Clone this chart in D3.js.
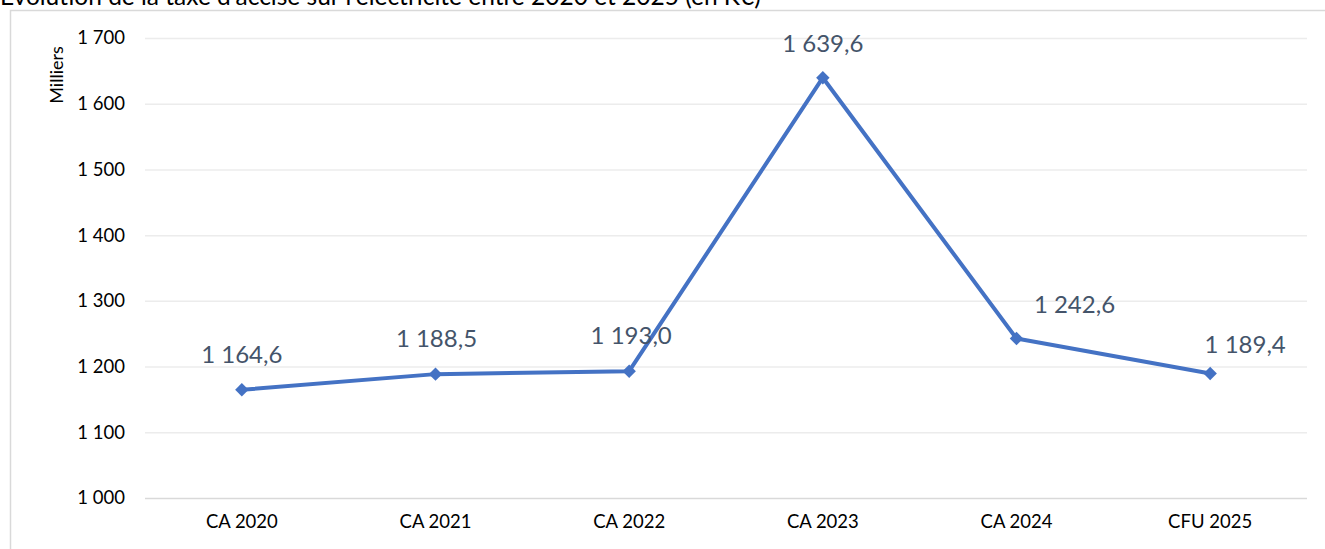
<!DOCTYPE html>
<html><head><meta charset="utf-8">
<script src="https://cdn.jsdelivr.net/npm/d3@7"></script>
<style>body{margin:0;background:#fff}svg{display:block}</style>
</head><body><svg id="c" width="1325" height="549"></svg>
<script>
const title = "Évolution de la taxe d'accise sur l'électricité entre 2020 et 2025 (en K€)";
const categories = ["CA 2020","CA 2021","CA 2022","CA 2023","CA 2024","CFU 2025"];
const values = [1164.6, 1188.5, 1193.0, 1639.6, 1242.6, 1189.4];
const yTicks = [1000,1100,1200,1300,1400,1500,1600,1700];
const yAxisTitle = "Milliers";
// manual label placement (px offsets from each point), as in the source chart
const labelDx = [0, 1, 2, 0, 58, 35];
const labelDy = [-27, -27, -27, -26, -26, -21];

const font = "Lato, Calibri, 'Open Sans', sans-serif";
const svg = d3.select("#c");
const W = 1325, H = 549;
const m = {left:145, right:18, top:38, bottom:51};

svg.append("path").attr("d", `M10.5,${H} V10.5 H${W}`).attr("fill","none").attr("stroke","#d9d9d9").attr("stroke-width",1.5);
svg.append("text").attr("x",0).attr("y",5).attr("font-family",font).attr("font-size",24.5).attr("fill","#000").text(title);

const x = d3.scaleBand().domain(categories).range([m.left, W-m.right]);
const y = d3.scaleLinear().domain([1000,1700]).range([H-m.bottom, m.top]);

const gy = svg.append("g").attr("transform",`translate(${m.left},0)`)
  .call(d3.axisLeft(y).tickValues(yTicks).tickSize(-(W-m.left-m.right)).tickPadding(20)
    .tickFormat(d => d3.format(",")(d).replace(/,/g," ")));
gy.select(".domain").remove();
gy.selectAll(".tick line").attr("stroke","#ececec").attr("stroke-width",1.5);
gy.selectAll(".tick").filter(d=>d===1000).select("line").attr("stroke","#d9d9d9");
gy.selectAll(".tick text").attr("font-family",font).attr("font-size",18.5).attr("fill","#000");

const gx = svg.append("g").attr("transform",`translate(0,${H-m.bottom})`)
  .call(d3.axisBottom(x).tickSize(0).tickPadding(17));
gx.select(".domain").remove();
gx.selectAll(".tick text").attr("font-family",font).attr("font-size",18.5).attr("fill","#000");

svg.append("text").attr("transform",`translate(63,75) rotate(-90)`).attr("text-anchor","middle")
  .attr("font-family",font).attr("font-size",18).attr("fill","#000").text(yAxisTitle);

const cx = d => x(d) + x.bandwidth()/2;
const line = d3.line().x((d,i)=>cx(categories[i])).y(d=>y(d));
svg.append("path").datum(values).attr("d",line).attr("fill","none").attr("stroke","#4472C4").attr("stroke-width",4).attr("stroke-linejoin","round");

svg.selectAll(".mk").data(values).join("path").attr("class","mk")
  .attr("transform",(d,i)=>`translate(${cx(categories[i])},${y(d)})`)
  .attr("d", d3.symbol().type(d3.symbolDiamond2).size(115)).attr("fill","#4472C4");

svg.selectAll(".lbl").data(values).join("text").attr("class","lbl")
  .attr("x",(d,i)=>cx(categories[i]) + labelDx[i]).attr("y",(d,i)=>y(d)+labelDy[i]).attr("text-anchor","middle")
  .attr("font-family",font).attr("font-size",24).attr("fill","#44546A")
  .text(d => d3.format(",.1f")(d).replace(/,/g," ").replace(".",","));
</script></body></html>
